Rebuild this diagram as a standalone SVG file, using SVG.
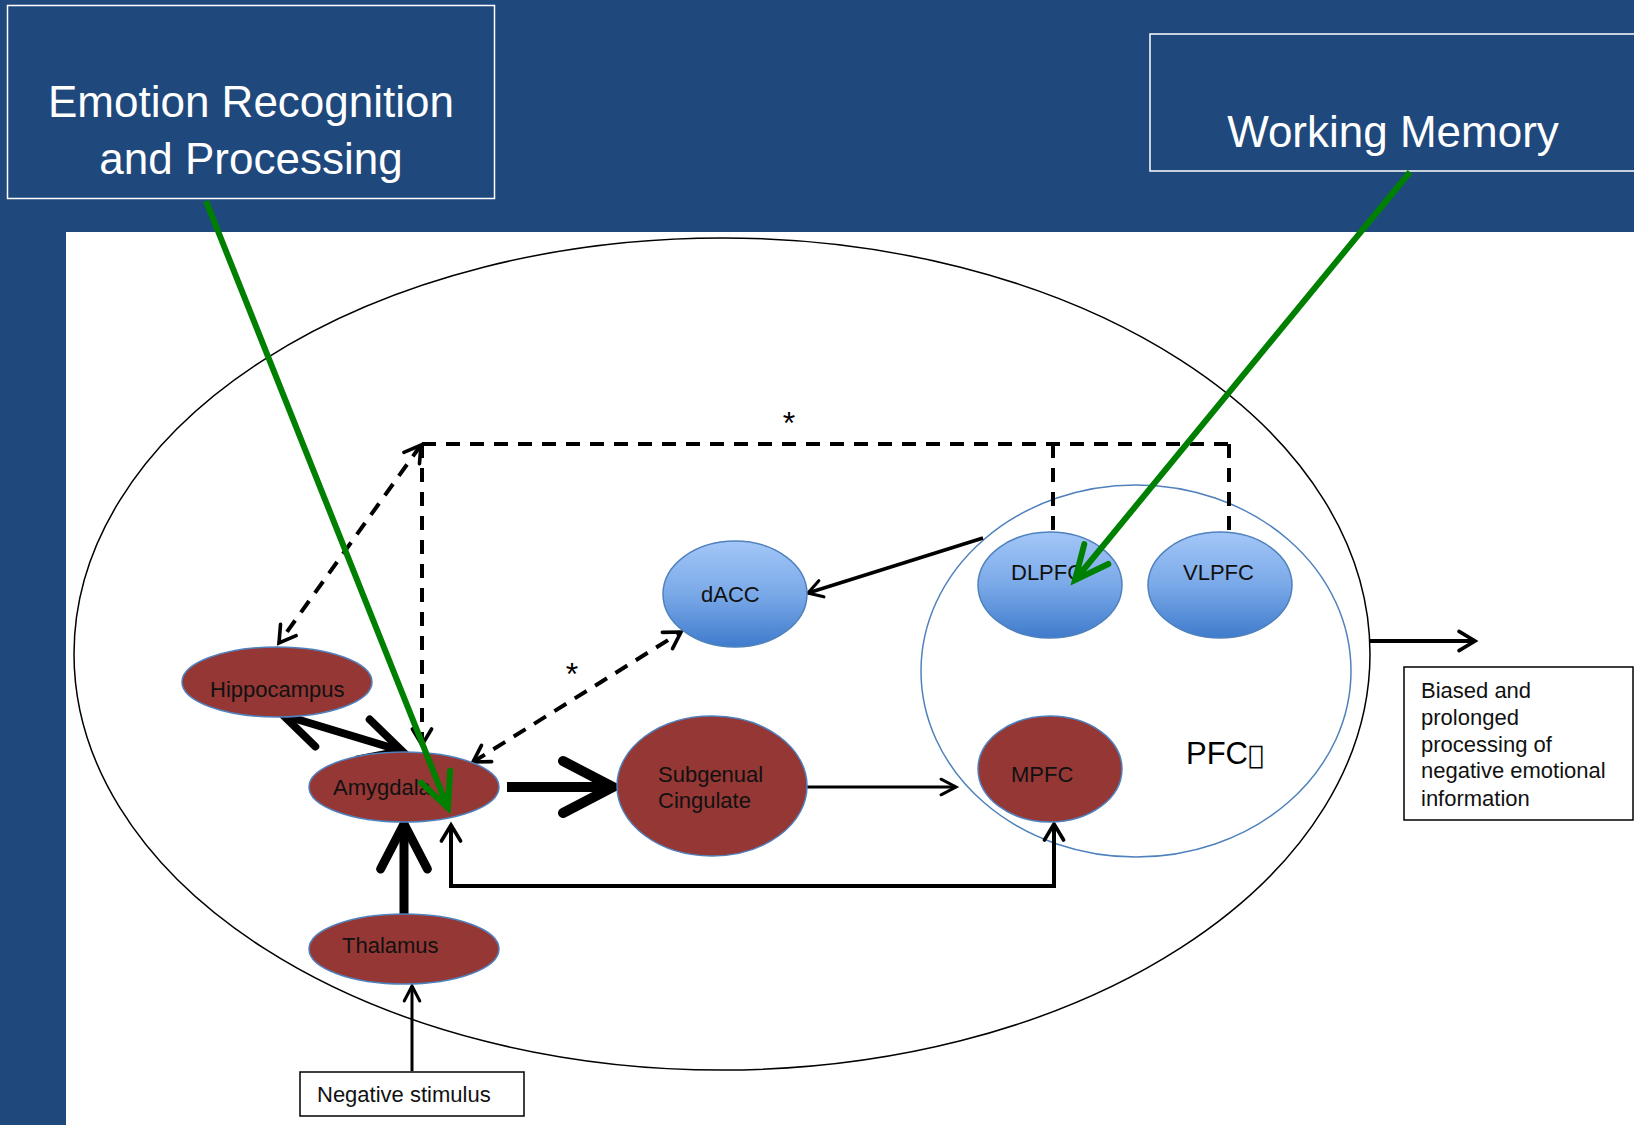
<svg xmlns="http://www.w3.org/2000/svg" width="1634" height="1125" viewBox="0 0 1634 1125">
<defs>
<style>
.title{font-family:"Liberation Sans",Arial,sans-serif;font-size:44px;fill:#ffffff;text-anchor:middle}
.tbox{fill:none;stroke:#ffffff;stroke-width:1.5}
.lbl{font-family:"Liberation Sans",Arial,sans-serif;font-size:22px;fill:#111111}
.red{fill:#953735;stroke:#4f81bd;stroke-width:1.5}
.blue{fill:url(#bg);stroke:#4f81bd;stroke-width:1.5}
.wbox{fill:#ffffff;stroke:#000000;stroke-width:1.5}
.ln{fill:none;stroke:#000000;stroke-linecap:butt}
.dash{stroke-dasharray:14 10;stroke-width:4}
.grn{fill:none;stroke:#008000;stroke-width:6}
.star{font-family:"Liberation Sans",Arial,sans-serif;font-size:32px;fill:#000;text-anchor:middle}
</style>
<linearGradient id="bg" x1="0" y1="0" x2="0" y2="1">
<stop offset="0" stop-color="#a3c6f7"/>
<stop offset="0.5" stop-color="#7aa9e8"/>
<stop offset="1" stop-color="#3f7bcc"/>
</linearGradient>
<marker id="ah" viewBox="-8 -5 10 10" markerWidth="10" markerHeight="10" refX="0" refY="0" orient="auto-start-reverse" markerUnits="strokeWidth" overflow="visible">
<path d="M-5,-2.6 L0,0 L-5,2.6" fill="none" stroke="#000" stroke-width="1" stroke-linejoin="miter" stroke-linecap="round"/>
</marker>
<marker id="ahs" viewBox="-8 -5 10 10" markerWidth="10" markerHeight="10" refX="0" refY="0" orient="auto-start-reverse" markerUnits="strokeWidth" overflow="visible">
<path d="M-4,-2.4 L0,0 L-4,2.4" fill="none" stroke="#000" stroke-width="0.9" stroke-linejoin="miter" stroke-linecap="round"/>
</marker>
<marker id="ag" viewBox="-8 -5 10 10" markerWidth="10" markerHeight="10" refX="0" refY="0" orient="auto" markerUnits="strokeWidth" overflow="visible">
<path d="M-5.6,-2.6 L0,0 L-5.6,2.6" fill="none" stroke="#008000" stroke-width="1" stroke-linejoin="miter" stroke-linecap="round"/>
</marker>
</defs>

<rect x="0" y="0" width="1634" height="1125" fill="#1f497d"/>
<rect x="66" y="232" width="1568" height="893" fill="#ffffff"/>

<g id="title-emotion">
<rect class="tbox" x="7.5" y="5.5" width="487" height="193"/>
<text class="title" x="251" y="117">Emotion Recognition</text>
<text class="title" x="251" y="174">and Processing</text>
</g>
<g id="title-wm">
<rect class="tbox" x="1150" y="34" width="500" height="137"/>
<text class="title" x="1393" y="147">Working Memory</text>
</g>

<g id="brain">
<ellipse cx="722" cy="654" rx="648" ry="416" fill="none" stroke="#000" stroke-width="1.5"/>
</g>
<g id="pfc">
<ellipse cx="1136" cy="671" rx="215" ry="186" fill="none" stroke="#4f81bd" stroke-width="1.5"/>
<text x="1186" y="764" font-family="'Liberation Sans',Arial,sans-serif" font-size="31" fill="#000">PFC<tspan font-family="'DejaVu Sans',sans-serif" font-size="26">&#xE000;</tspan></text>
</g>

<g id="connectors">
<path class="ln dash" d="M422,444 H1229"/>
<path class="ln dash" d="M1053,444 V535"/>
<path class="ln dash" d="M1229,444 V532"/>
<path class="ln dash" d="M422,444 V745" marker-end="url(#ahs)"/>
<path class="ln dash" d="M421,445 L279,643" stroke-width="3.5" marker-start="url(#ahs)" marker-end="url(#ahs)"/>
<path class="ln dash" d="M473,762 L681,632" stroke-width="3.5" marker-start="url(#ahs)" marker-end="url(#ahs)"/>
<path class="ln" d="M983,538 L808,593" stroke-width="3.5" marker-end="url(#ahs)"/>
<path class="ln" d="M283,715 L402,751" stroke-width="8" marker-start="url(#ah)" marker-end="url(#ah)"/>
<path class="ln" d="M507,787 H613" stroke-width="10" marker-end="url(#ah)"/>
<path class="ln" d="M404,914 V824" stroke-width="9" marker-end="url(#ah)"/>
<path class="ln" d="M807,787 H956" stroke-width="3" marker-end="url(#ah)"/>
<path class="ln" d="M451,825 V886 H1054 V824" stroke-width="4" marker-start="url(#ahs)" marker-end="url(#ahs)"/>
<path class="ln" d="M412,1071 V986" stroke-width="3" marker-end="url(#ah)"/>
<path class="ln" d="M1370,641 H1475" stroke-width="4" marker-end="url(#ahs)"/>
<text class="star" x="789" y="434">*</text>
<text class="star" x="572" y="685">*</text>
</g>

<g id="node-hippocampus">
<ellipse class="red" cx="277" cy="682" rx="95" ry="35"/>
<text class="lbl" x="210" y="697">Hippocampus</text>
</g>
<g id="node-amygdala">
<ellipse class="red" cx="404" cy="787" rx="95" ry="35"/>
<text class="lbl" x="333" y="795">Amygdala</text>
</g>
<g id="node-thalamus">
<ellipse class="red" cx="404" cy="949" rx="95" ry="35"/>
<text class="lbl" x="342" y="953">Thalamus</text>
</g>
<g id="node-subgenual">
<ellipse class="red" cx="712" cy="786" rx="95" ry="70"/>
<text class="lbl" x="658" y="782">Subgenual</text>
<text class="lbl" x="658" y="808">Cingulate</text>
</g>
<g id="node-dacc">
<ellipse class="blue" cx="735" cy="594" rx="72" ry="53"/>
<text class="lbl" x="701" y="602">dACC</text>
</g>
<g id="node-dlpfc">
<ellipse class="blue" cx="1050" cy="585" rx="72" ry="53"/>
<text class="lbl" x="1011" y="580">DLPFC</text>
</g>
<g id="node-vlpfc">
<ellipse class="blue" cx="1220" cy="585" rx="72" ry="53"/>
<text class="lbl" x="1183" y="580">VLPFC</text>
</g>
<g id="node-mpfc">
<ellipse class="red" cx="1050" cy="769" rx="72" ry="53"/>
<text class="lbl" x="1011" y="782">MPFC</text>
</g>
<g id="node-stimulus">
<rect class="wbox" x="300" y="1072" width="224" height="44"/>
<text class="lbl" x="317" y="1102">Negative stimulus</text>
</g>
<g id="node-output">
<rect class="wbox" x="1404" y="667" width="229" height="153"/>
<text class="lbl" x="1421" y="698">Biased and</text>
<text class="lbl" x="1421" y="725">prolonged</text>
<text class="lbl" x="1421" y="752">processing of</text>
<text class="lbl" x="1421" y="778">negative emotional</text>
<text class="lbl" x="1421" y="806">information</text>
</g>

<g id="callouts">
<path class="grn" d="M206,201 L448,808" marker-end="url(#ag)"/>
<path class="grn" d="M1410,172 L1075,580" marker-end="url(#ag)"/>
</g>
</svg>
